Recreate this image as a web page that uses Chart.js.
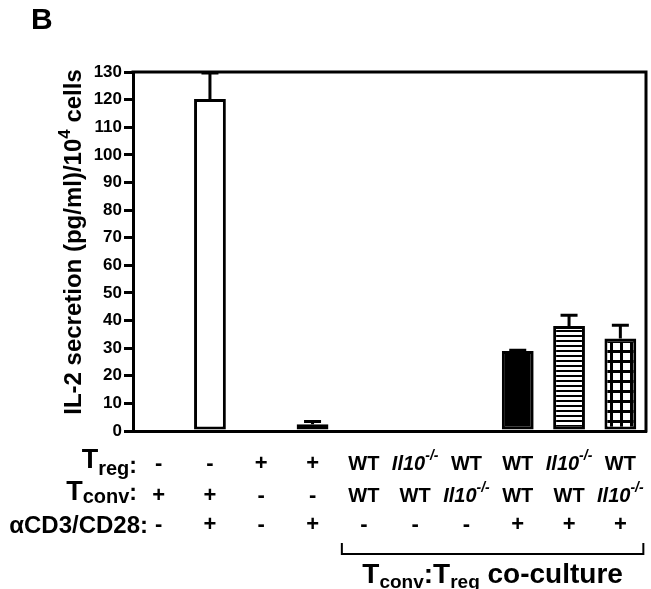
<!DOCTYPE html>
<html><head><meta charset="utf-8">
<script src="https://cdn.jsdelivr.net/npm/chart.js@4"></script>
<style>html,body{margin:0;padding:0;background:#fff;overflow:hidden}canvas{display:block}</style>
</head><body>
<canvas id="c" width="651" height="589"></canvas>
<script>
// ---- data ----
const conditions = ['c1','c2','c3','c4','c5','c6','c7','c8','c9','c10'];
const il2Values = [0, 120.2, 0, 2.4, 0, 0, 0, 29.0, 38.0, 33.5];
const il2Errors = [0, 9.4, 0, 1.0, 0, 0, 0, 0.2, 3.9, 4.8];
const tregRow  = ['-', '-', '+', '+', 'WT', 'Il10', 'WT', 'WT', 'Il10', 'WT'];
const tconvRow = ['+', '+', '-', '-', 'WT', 'WT', 'Il10', 'WT', 'WT', 'Il10'];
const cd3Row   = ['-', '+', '-', '+', '-', '-', '-', '+', '+', '+'];
const yMin = 0, yMax = 130, yStep = 10;
const panelLetter = 'B';
const yTitleMain = 'IL-2 secretion (pg/ml)/10', yTitleSup = '4', yTitleEnd = ' cells';
const cocultureFrom = 4, cocultureTo = 9;

// ---- styles ----
const FONT = "'Liberation Sans', Arial, Helvetica, sans-serif";
const fillKinds = ['white','white','white','black','white','white','white','black','hlines','grid'];

function makePattern(kind){
  const pc = document.createElement('canvas');
  const ctx = pc.getContext('2d');
  if(kind==='hlines'){
    pc.width=5; pc.height=5;
    ctx.fillStyle='#fff'; ctx.fillRect(0,0,5,5);
    ctx.fillStyle='#000'; ctx.fillRect(0,0,5,2);
  } else {
    pc.width=10; pc.height=10;
    ctx.fillStyle='#fff'; ctx.fillRect(0,0,10,10);
    ctx.fillStyle='#000'; ctx.fillRect(0,0,10,3); ctx.fillRect(0,0,3,10);
  }
  return document.getElementById('c').getContext('2d').createPattern(pc,'repeat');
}
const fills = fillKinds.map(k => k==='white' ? '#ffffff' : k==='black' ? '#000000' : makePattern(k));

function drawRich(ctx, parts, x, y, align){
  let w = 0;
  parts.forEach(p => { ctx.font = (p.italic?'italic ':'') + 'bold ' + p.size + 'px ' + FONT; p.w = ctx.measureText(p.t).width; w += p.w; });
  let cx = align==='center' ? x - w/2 : align==='right' ? x - w : x;
  ctx.textAlign='left'; ctx.textBaseline='alphabetic';
  parts.forEach(p => { ctx.font = (p.italic?'italic ':'') + 'bold ' + p.size + 'px ' + FONT; ctx.fillText(p.t, cx, y + (p.dy||0)); cx += p.w; });
  return w;
}
function cellParts(v){
  if(v==='Il10') return [{t:'Il10', size:20, italic:true},{t:'-/-', size:14, italic:true, dy:-10}];
  if(v==='WT') return [{t:'WT', size:20}];
  return [{t:v, size:22}];
}

const decor = {
  id:'decor',
  afterDatasetsDraw(chart){
    const ctx = chart.ctx, ys = chart.scales.y, a = chart.chartArea;
    const meta = chart.getDatasetMeta(0);
    ctx.save();
    ctx.strokeStyle='#000'; ctx.lineWidth=3; ctx.lineCap='butt';
    il2Errors.forEach((e,i)=>{
      if(!e) return;
      const x = meta.data[i].x;
      const y0 = ys.getPixelForValue(il2Values[i]);
      const y1 = ys.getPixelForValue(il2Values[i]+e);
      ctx.beginPath(); ctx.moveTo(x,y0); ctx.lineTo(x,y1);
      ctx.moveTo(x-8.5,y1); ctx.lineTo(x+8.5,y1); ctx.stroke();
    });
    ctx.beginPath();
    ctx.moveTo(a.left-1.5, a.top); ctx.lineTo(a.right, a.top); ctx.lineTo(a.right, a.bottom+1.5);
    ctx.stroke();
    ctx.restore();
  },
  afterDraw(chart){
    const ctx = chart.ctx, xs = chart.scales.x;
    ctx.save(); ctx.fillStyle='#000';
    ctx.font = 'bold 30px ' + FONT; ctx.textBaseline='alphabetic'; ctx.textAlign='left';
    ctx.fillText(panelLetter, 31, 29);
    // y title
    ctx.save(); ctx.translate(81, 242); ctx.rotate(-Math.PI/2);
    drawRich(ctx, [{t:yTitleMain,size:24},{t:yTitleSup,size:17,dy:-11},{t:yTitleEnd,size:24}], 0, 0, 'center');
    ctx.restore();
    // row labels
    drawRich(ctx, [{t:'T',size:27},{t:'reg',size:20,dy:7},{t:':',size:23,dy:5}], 137, 468, 'right');
    drawRich(ctx, [{t:'T',size:27},{t:'conv',size:20,dy:3},{t:':',size:23}], 137, 500, 'right');
    drawRich(ctx, [{t:'\u03B1CD3/CD28:',size:24}], 148, 533, 'right');
    const rows = [[tregRow,470],[tconvRow,502],[cd3Row,531]];
    rows.forEach(([row,yb])=>{
      row.forEach((v,i)=>{
        drawRich(ctx, cellParts(v), xs.getPixelForValue(i), yb, 'center');
      });
    });
    // bracket
    const bx0 = xs.getPixelForValue(cocultureFrom) - 22, bx1 = xs.getPixelForValue(cocultureTo) + 23;
    ctx.strokeStyle='#000'; ctx.lineWidth=2;
    ctx.beginPath(); ctx.moveTo(bx0,543); ctx.lineTo(bx0,554); ctx.lineTo(bx1,554); ctx.lineTo(bx1,543); ctx.stroke();
    drawRich(ctx, [{t:'T',size:28},{t:'conv',size:19,dy:5},{t:':T',size:28},{t:'reg',size:19,dy:5},{t:' co-culture',size:28}], (bx0+bx1)/2, 583, 'center');
    ctx.restore();
  }
};

new Chart(document.getElementById('c'), {
  type:'bar',
  data:{ labels: conditions, datasets:[{
    data: il2Values,
    backgroundColor: fills,
    borderColor:'#000', borderWidth:3, borderSkipped:false,
    barPercentage:0.62, categoryPercentage:1
  }]},
  options:{
    responsive:false, animation:false, devicePixelRatio:1,
    layout:{padding:{top:72,right:5,bottom:158,left:0}},
    plugins:{legend:{display:false}, tooltip:{enabled:false}},
    scales:{
      x:{ grid:{display:false}, border:{display:true,width:3,color:'#000'}, ticks:{display:false},
          afterFit:s=>{s.height=0;} },
      y:{ min:yMin, max:yMax,
          ticks:{stepSize:yStep, color:'#000', padding:2, font:{family:FONT,size:17,weight:'bold'}},
          grid:{drawOnChartArea:false, drawTicks:true, tickLength:9, lineWidth:3, color:'#000'},
          border:{display:true,width:3,color:'#000'},
          afterFit:s=>{s.width=133;} }
    }
  },
  plugins:[decor]
});
</script>
</body></html>
